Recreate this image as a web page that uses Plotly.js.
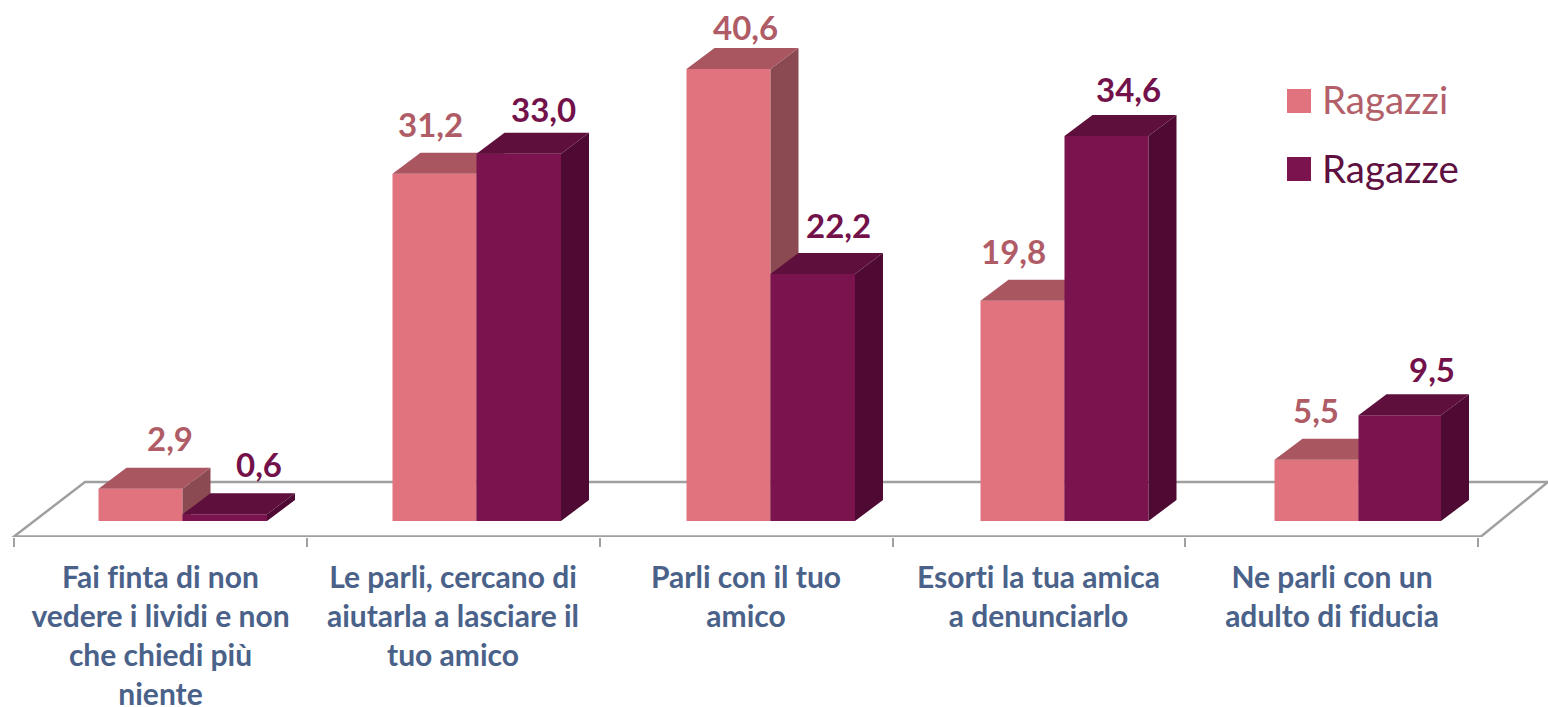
<!DOCTYPE html>
<html><head><meta charset="utf-8">
<script src="https://cdn.plot.ly/plotly-3.0.1.min.js"></script>
<style>html,body{margin:0;padding:0;background:#fff;overflow:hidden}#c{width:1548px;height:707px}text{font-variant-ligatures:none;font-feature-settings:"liga" 0}</style>
</head><body><div id="c"></div>
<script>
const categories = [
  ["Fai finta di non","vedere i lividi e non","che chiedi più","niente"],
  ["Le parli, cercano di","aiutarla a lasciare il","tuo amico"],
  ["Parli con il tuo","amico"],
  ["Esorti la tua amica","a denunciarlo"],
  ["Ne parli con un","adulto di fiducia"]
];
const seriesNames = ["Ragazzi","Ragazze"];
const ragazzi = [2.9,31.2,40.6,19.8,5.5];
const ragazze = [0.6,33.0,22.2,34.6,9.5];
const labelsRagazzi = ["2,9","31,2","40,6","19,8","5,5"];
const labelsRagazze = ["0,6","33,0","22,2","34,6","9,5"];

// pixel scale helpers: one category step = 294px, one value unit = 11.13px
const W=1548,H=707,PB=537;
const pxCat=294, pxVal=11.13, x0Px=182.5, y0Px=521;
const xOf=p=>(p-x0Px)/pxCat, vOf=p=>(y0Px-p)/pxVal;
const barWA=[84,84,84,84,84].map(p=>p/pxCat), barWB=[84.5,84.5,84.5,84,82.5].map(p=>p/pxCat);
const depthX=28/pxCat, depthY=21/pxVal;
const idx=categories.map((_,i)=>i);

// per-label nudges of the data labels (px, right / up from the bar's front top edge)
const nudgeA=[[29,51],[-4,50],[17,42],[-9,50],[-1,50]];
const nudgeB=[[34,50],[25,45],[26,49],[22,47],[32,46]];

const colA={front:"#e1737f",top:"#a95660",side:"#8b4a52",text:"#b05c67"};
const colB={front:"#7a134e",top:"#5e0f3c",side:"#4e0a33",text:"#73114a"};

function faces(vals,lefts,widths,c,xa,ya){
  const tx=[],ty=[],sx=[],sy=[];
  vals.forEach((v,i)=>{
    const l=i+lefts[i],r=l+widths[i];
    tx.push(l,r,r+depthX,l+depthX,l,null); ty.push(v,v,v+depthY,v+depthY,v,null);
    sx.push(r,r+depthX,r+depthX,r,r,null); sy.push(0,depthY,v+depthY,v,0,null);
  });
  const base={type:"scatter",mode:"lines",line:{width:0},fill:"toself",hoverinfo:"skip",showlegend:false,xaxis:xa,yaxis:ya};
  return [
    Object.assign({},base,{x:sx,y:sy,fillcolor:c.side}),
    Object.assign({},base,{x:tx,y:ty,fillcolor:c.top})
  ];
}
function bars(vals,name,lefts,widths,c,xa,ya){
  return {type:"bar",x:idx,y:vals,name:name,width:widths,offset:lefts,marker:{color:c.front,line:{width:0}},showlegend:false,xaxis:xa,yaxis:ya};
}
const leftA=barWA.map(w=>-w), leftB=barWB.map(()=>0);
const data=[
  bars(ragazzi,seriesNames[0],leftA,barWA,colA,"x","y"),
  ...faces(ragazzi,leftA,barWA,colA,"x","y"),
  bars(ragazze,seriesNames[1],leftB,barWB,colB,"x2","y2"),
  ...faces(ragazze,leftB,barWB,colB,"x2","y2")
];

const tickText=categories.map(ls=>ls.join("<br>"));
const tickPos=[160.5,453,746,1038.5,1332].map(xOf);
const boundary=[14,307,600,893,1185,1478].map(xOf);

const ann=[];
function addLabels(texts,vals,nudge,lefts,widths,color){
  texts.forEach((t,i)=>ann.push({text:t,x:i+lefts[i]+widths[i]/2,y:vals[i],xref:"x",yref:"y",xanchor:"center",yanchor:"middle",
    xshift:nudge[i][0],yshift:nudge[i][1],showarrow:false,font:{family:"Lato",size:33,color:color,weight:700}}));
}
addLabels(labelsRagazzi,ragazzi,nudgeA,leftA,barWA,colA.text);
addLabels(labelsRagazze,ragazze,nudgeB,leftB,barWB,colB.text);
const legendY=[101,169], legendTextY=[99.5,167.5], legendCol=[colA,colB], legendTxt=["#b35f6a","#5e1040"];
const shapes=[{type:"path",xref:"x",yref:"y",layer:"below",
  path:`M${xOf(14)},${vOf(536.5)}L${xOf(1481)},${vOf(536.5)}L${xOf(1548)},${vOf(482)}L${xOf(85)},${vOf(482)}Z`,
  line:{color:"#a0a0a0",width:2.5},fillcolor:"#ffffff"}];
seriesNames.forEach((n,k)=>{
  shapes.push({type:"rect",xref:"paper",yref:"paper",x0:1287/W,x1:1311/W,y0:1-(legendY[k]+12)/PB,y1:1-(legendY[k]-12)/PB,
    fillcolor:legendCol[k].front,line:{width:0}});
  ann.push({text:n,xref:"paper",yref:"paper",x:1320/W,y:1-legendTextY[k]/PB,xanchor:"left",yanchor:"middle",showarrow:false,
    font:{family:"Lato",size:38.5,color:legendTxt[k]}});
});

const range=[xOf(0),xOf(W)], yrange=[vOf(PB),vOf(0)];
const layout={
  width:W,height:H,margin:{l:0,r:0,t:0,b:H-PB,pad:0},
  paper_bgcolor:"#fff",plot_bgcolor:"#fff",showlegend:false,
  barmode:"overlay",
  xaxis:{type:"linear",range:range,tickmode:"array",tickvals:tickPos,ticktext:tickText,ticks:"",showgrid:false,zeroline:false,showline:false,
    ticklabelstandoff:20,tickangle:0,
    tickfont:{family:"Lato",size:30,color:"#4a6289",weight:700},
    minor:{tickmode:"array",tickvals:boundary,ticks:"outside",ticklen:9,tickwidth:1.5,tickcolor:"#a0a0a0",showgrid:false}},
  yaxis:{type:"linear",range:yrange,visible:false,showgrid:false,zeroline:false},
  xaxis2:{type:"linear",range:range,overlaying:"x",matches:"x",anchor:"y2",visible:false},
  yaxis2:{type:"linear",range:yrange,overlaying:"y",matches:"y",anchor:"x2",visible:false},
  annotations:ann,shapes:shapes
};
Plotly.newPlot("c",data,layout,{displayModeBar:false,staticPlot:true});
</script></body></html>
